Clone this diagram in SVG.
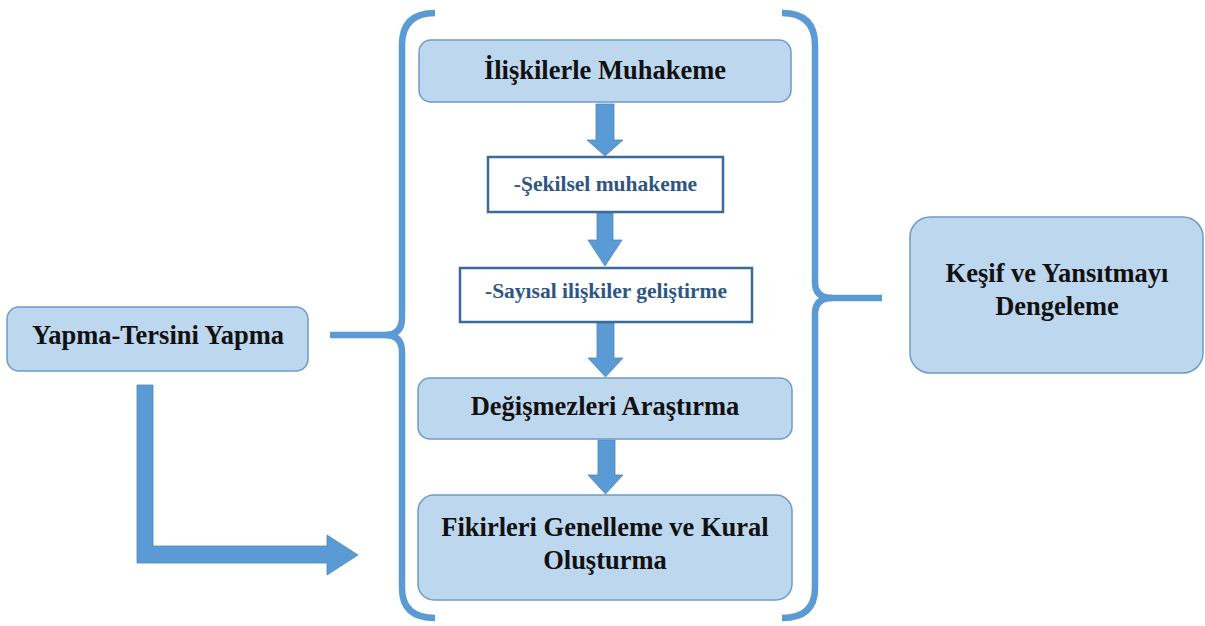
<svg xmlns="http://www.w3.org/2000/svg" width="1205" height="626" viewBox="0 0 1205 626">
<style>
.box{fill:#BDD7EE;stroke:#6F9BC6;stroke-width:1.5}
.wbox{fill:#FFFFFF;stroke:#3A6B9A;stroke-width:2.5}
.t{font-family:"Liberation Serif","Times New Roman",serif;font-weight:bold;font-size:26.5px;fill:#111111;text-anchor:middle}
.s{font-family:"Liberation Serif","Times New Roman",serif;font-weight:bold;font-size:21.5px;fill:#2D5683;text-anchor:middle}
.arr{fill:#5B9BD5;stroke:#4F86BA;stroke-width:0.8}
.br{fill:none;stroke:#5B9BD5;stroke-width:6.5;stroke-linecap:butt}
</style>
<rect width="1205" height="626" fill="#FFFFFF"/>
<g id="connectors">
<path class="br" d="M435,13 Q402,13 402,45 L402,318 Q402,335 385,335 Q402,335 402,352 L402,588 Q402,618 435,618"/>
<path class="br" d="M330,335 L392,335"/>
<path class="br" d="M782,13 Q815,13 815,45 L815,282 Q815,298 832,298 Q815,298 815,314 L815,588 Q815,618 782,618"/>
<path class="br" d="M826,298 L882,298"/>
<polygon class="arr" points="596,104 614,104 614,140 623,140 605,156 587,140 596,140"/>
<polygon class="arr" points="597,213 613,213 613,240 622,240 605,266 588,240 597,240"/>
<polygon class="arr" points="597,323 614,323 614,358 623,358 605.5,377 588,358 597,358"/>
<polygon class="arr" points="598,440 615,440 615,475 623,475 605.5,494 588,475 598,475"/>
<polygon class="arr" points="137,385 153,385 153,546 327,546 327,535 358,555 327,575 327,563 137,563"/>
</g>
<g id="node-iliskilerle">
<rect class="box" x="419" y="40" width="372" height="62" rx="12"/>
<text class="t" x="605" y="79">İlişkilerle Muhakeme</text>
</g>
<g id="node-sekilsel">
<rect class="wbox" x="488" y="157" width="235" height="55"/>
<text class="s" x="605.5" y="191">-Şekilsel muhakeme</text>
</g>
<g id="node-sayisal">
<rect class="wbox" x="460" y="268" width="292" height="54"/>
<text class="s" x="606" y="298">-Sayısal ilişkiler geliştirme</text>
</g>
<g id="node-degismezleri">
<rect class="box" x="418" y="378" width="374" height="61" rx="12"/>
<text class="t" x="605" y="415">Değişmezleri Araştırma</text>
</g>
<g id="node-fikirleri">
<rect class="box" x="418" y="495" width="374" height="105" rx="16"/>
<text class="t" x="605" y="536">Fikirleri Genelleme ve Kural</text>
<text class="t" x="605" y="569">Oluşturma</text>
</g>
<g id="node-yapma">
<rect class="box" x="7" y="307" width="301" height="64" rx="12"/>
<text class="t" x="158" y="344">Yapma-Tersini Yapma</text>
</g>
<g id="node-kesif">
<rect class="box" x="910" y="217" width="293" height="156" rx="20"/>
<text class="t" x="1057" y="282">Keşif ve Yansıtmayı</text>
<text class="t" x="1057" y="315">Dengeleme</text>
</g>
</svg>
